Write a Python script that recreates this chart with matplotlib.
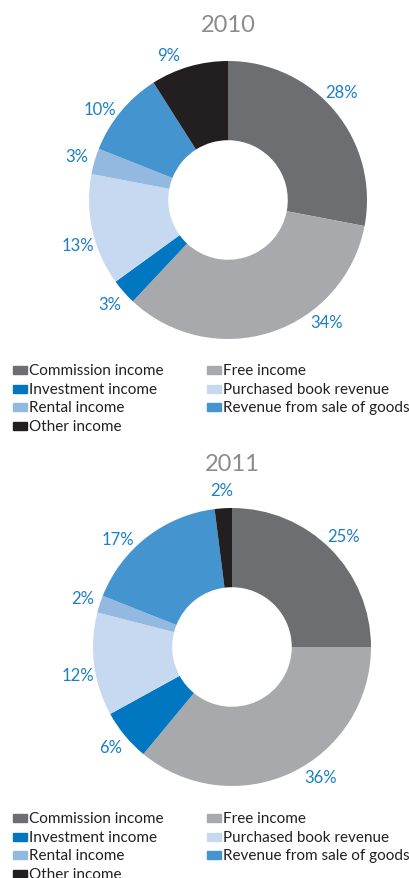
import matplotlib.pyplot as plt
import numpy as np
from matplotlib.patches import Rectangle

plt.rcParams['font.family'] = ['Lato', 'DejaVu Sans']

categories = [
    "Commission income",
    "Free income",
    "Investment income",
    "Purchased book revenue",
    "Rental income",
    "Revenue from sale of goods",
    "Other income",
]
values_2010 = [28, 34, 3, 13, 3, 10, 9]
values_2011 = [25, 36, 6, 12, 2, 17, 2]

colors = ["#6d6e71", "#a7a9ac", "#0077c0", "#c6d9f0", "#94b9e0", "#4494cf", "#231f20"]
label_color = "#1b7fc6"
title_color = "#8c8c8e"

W, H = 410, 879
fig = plt.figure(figsize=(W / 100, H / 100), dpi=100)

R_PX = 139  # outer radius in pixels


def donut(cx, cy, values, year, title_y, nudges):
    half = 170
    ax = fig.add_axes([(cx - half) / W, 1 - (cy + half) / H, 2 * half / W, 2 * half / H])
    wedges, _ = ax.pie(values, colors=colors, startangle=90, counterclock=False,
                       radius=1, wedgeprops=dict(width=0.57, linewidth=0))
    lim = half / R_PX
    ax.set_xlim(-lim, lim)
    ax.set_ylim(-lim, lim)
    ax.set_aspect('equal')
    ax.axis('off')
    for w, v, nd in zip(wedges, values, nudges):
        ang = np.deg2rad((w.theta1 + w.theta2) / 2 + nd)
        ax.text(1.13 * np.cos(ang), 1.13 * np.sin(ang), f"{v}%",
                ha='center', va='center', fontsize=12, color=label_color)
    fig.text(cx / W, 1 - title_y / H, year, ha='center', va='center',
             fontsize=17, color=title_color)


def legend(top_y):
    step = 18.7
    order = [(0, 0), (1, 1), (2, 0), (3, 1), (4, 0), (5, 1), (6, 0)]
    rows = [0, 0, 1, 1, 2, 2, 3]
    for (i, col), row in zip(order, rows):
        y = top_y + row * step
        px = 13 if col == 0 else 207
        tx = 29 if col == 0 else 223
        fig.patches.append(Rectangle((px / W, 1 - (y + 4) / H), 14 / W, 8 / H,
                                     transform=fig.transFigure, color=colors[i]))
        fig.text(tx / W, 1 - y / H, categories[i], ha='left', va='center',
                 fontsize=11, color="#231f20")


donut(228, 201, values_2010, "2010", 25, [4, 21, 0, 4, 0, 4, 6])
legend(371)
donut(232, 648, values_2011, "2011", 465, [0, 9, 0, 3, 0, 9, 0])
legend(819)

fig.savefig("out.png", dpi=100)
